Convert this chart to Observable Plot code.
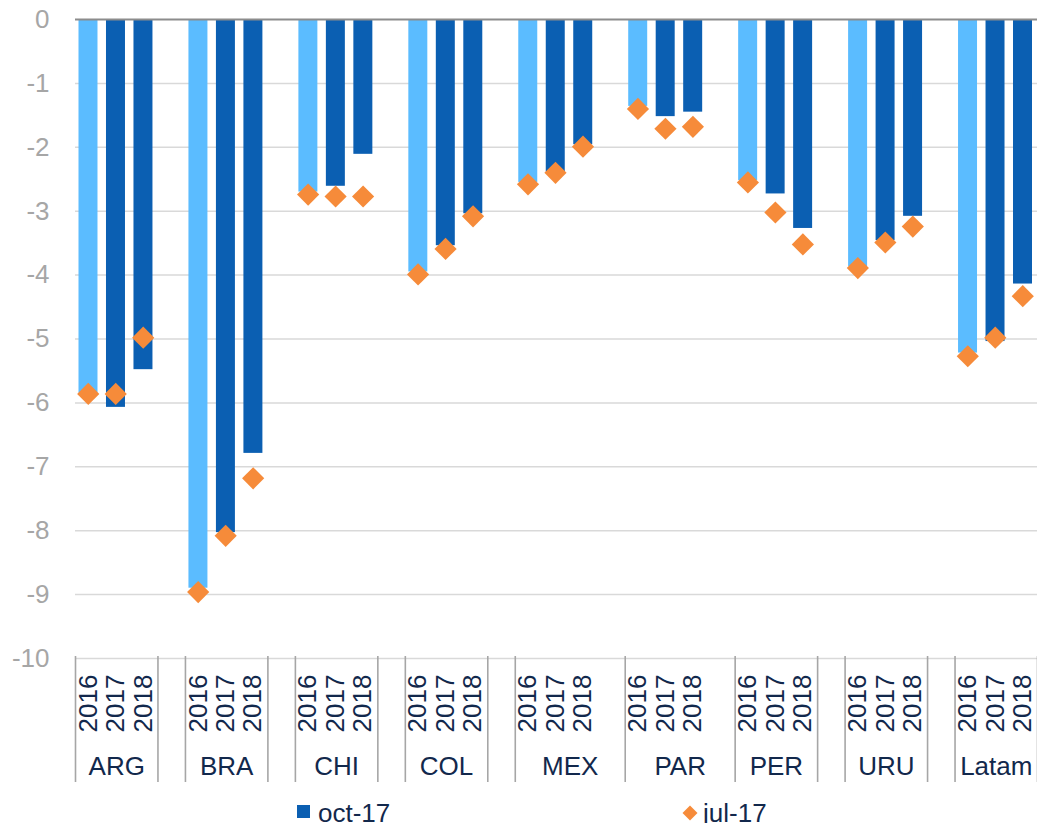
<!DOCTYPE html>
<html>
<head>
<meta charset="utf-8">
<script src="https://cdn.jsdelivr.net/npm/d3@7"></script>
<script src="https://cdn.jsdelivr.net/npm/@observablehq/plot@0.6"></script>
<style>
  html, body { margin: 0; padding: 0; background: #fff; overflow: hidden; }
  body { font-family: "Liberation Sans", Arial, sans-serif; width: 1037px; }
  #chart svg { display: block; }
  #legend { position: relative; height: 28px; font-size: 26px; color: #12284C; }
  #legend .item { position: absolute; top: 0; height: 28px; }
  #legend .lab { position: absolute; top: 5px; line-height: 26px; white-space: nowrap; }
</style>
</head>
<body>
<div id="chart"></div>
<div id="legend"></div>
<script>
// ---- data ----
const countries = ["ARG", "BRA", "CHI", "COL", "MEX", "PAR", "PER", "URU", "Latam"];
const years = ["2016", "2017", "2018"];
// label of the empty spacer slot that follows each country on the category axis
const spacerGroup = ["", "", "", "", "MEX", "PAR", "", ""];

// oct-17 (bars)
const oct17_2016 = [-5.85, -8.90, -2.70, -3.95, -2.55, -1.36, -2.52, -3.87, -5.22];
const oct17_2017 = [-6.07, -8.03, -2.61, -3.54, -2.39, -1.52, -2.73, -3.46, -5.04];
const oct17_2018 = [-5.48, -6.79, -2.11, -3.04, -1.96, -1.45, -3.27, -3.08, -4.14];
// jul-17 (diamonds)
const jul17_2016 = [-5.86, -8.96, -2.74, -3.99, -2.58, -1.40, -2.55, -3.89, -5.27];
const jul17_2017 = [-5.86, -8.08, -2.77, -3.59, -2.40, -1.71, -3.02, -3.49, -4.98];
const jul17_2018 = [-4.98, -7.18, -2.77, -3.08, -1.99, -1.68, -3.52, -3.24, -4.33];

const yTicks = [0, -1, -2, -3, -4, -5, -6, -7, -8, -9, -10];
const seriesNames = ["oct-17", "jul-17"];

// ---- build slot table ----
const octByYear = [oct17_2016, oct17_2017, oct17_2018];
const julByYear = [jul17_2016, jul17_2017, jul17_2018];
const slots = [];
countries.forEach((c, k) => {
  years.forEach((y, j) => {
    slots.push({i: slots.length, group: c, year: y, oct: octByYear[j][k], jul: julByYear[j][k]});
  });
  if (k < countries.length - 1) slots.push({i: slots.length, group: spacerGroup[k], year: "", oct: null, jul: null});
});
const N = slots.length;
const dataSlots = slots.filter(d => d.year !== "");

// group boundaries & label centres
const boundaries = [0];
for (let i = 1; i < N; i++) if (slots[i].group !== slots[i - 1].group) boundaries.push(i);
boundaries.push(N);
const groupLabels = [];
for (let b = 0; b < boundaries.length - 1; b++) {
  const g = slots[boundaries[b]].group;
  if (g) groupLabels.push({label: g, center: (boundaries[b] + boundaries[b + 1]) / 2});
}

// ---- styles ----
const LIGHT = "#5BBCFF", DARK = "#0B5FB2", ORANGE = "#F68B3A";
const TEXT = "#12284C", GRID = "#D9D9D9", AXISGRAY = "#A6A6A6";
const FONT = "'Liberation Sans', Arial, sans-serif";

const W = 1037, H = 795, MT = 19, MB = 137, ML = 75, MR = 0;
const innerH = H - MT - MB;

const chart = Plot.plot({
  width: W,
  height: H,
  marginLeft: ML,
  marginRight: MR,
  marginTop: MT,
  marginBottom: MB,
  style: {fontFamily: FONT, background: "white", overflow: "visible"},
  x: {domain: [0, N], axis: null},
  y: {domain: [-10, 0], axis: null},
  marks: [
    Plot.ruleY(yTicks.filter(d => d !== 0), {y: d => d, stroke: GRID, strokeWidth: 1.5}),
    Plot.rectY(dataSlots, {
      x1: "i", x2: d => d.i + 1, y: "oct",
      fill: d => d.year === years[0] ? LIGHT : DARK,
      insetLeft: 3.5, insetRight: 5
    }),
    Plot.ruleY([0], {stroke: "#8C8C8C", strokeWidth: 2}),
    Plot.dot(dataSlots, {
      x: d => d.i + 0.5, y: "jul", symbol: "diamond2", r: 10,
      fill: ORANGE, stroke: null, dx: -1
    }),
    Plot.text(yTicks, {
      y: d => d, text: d => String(d), frameAnchor: "left",
      textAnchor: "end", dx: -26, fontSize: 26, fill: AXISGRAY
    }),
    // category separators
    Plot.ruleX(boundaries, {
      x: d => d, stroke: AXISGRAY, strokeWidth: 1.6,
      insetTop: innerH - 2, insetBottom: -124
    }),
    // year labels
    Plot.text(dataSlots, {
      x: d => d.i + 0.5, text: "year", frameAnchor: "bottom",
      rotate: -90, textAnchor: "start", lineAnchor: "middle",
      dy: 74, dx: -1, fontSize: 26, fill: TEXT
    }),
    // group labels
    Plot.text(groupLabels, {
      x: "center", text: "label", frameAnchor: "bottom",
      textAnchor: "middle", lineAnchor: "middle",
      dy: 108, fontSize: 26, fill: TEXT
    })
  ]
});
document.getElementById("chart").appendChild(chart);

// ---- legend ----
const legend = document.getElementById("legend");
legend.innerHTML = `
  <div class="item" style="left:297px;width:100px">
    <div style="position:absolute;left:0;top:10px;width:13px;height:13px;background:${DARK}"></div>
    <div class="lab" style="left:21px">${seriesNames[0]}</div>
  </div>
  <div class="item" style="left:682px;width:100px">
    <svg style="position:absolute;left:0;top:10px" width="16" height="16" viewBox="0 0 16 16">
      <path d="M8 0.5 L15.5 8 L8 15.5 L0.5 8 Z" fill="${ORANGE}"/>
    </svg>
    <div class="lab" style="left:21px">${seriesNames[1]}</div>
  </div>`;
</script>
</body>
</html>
